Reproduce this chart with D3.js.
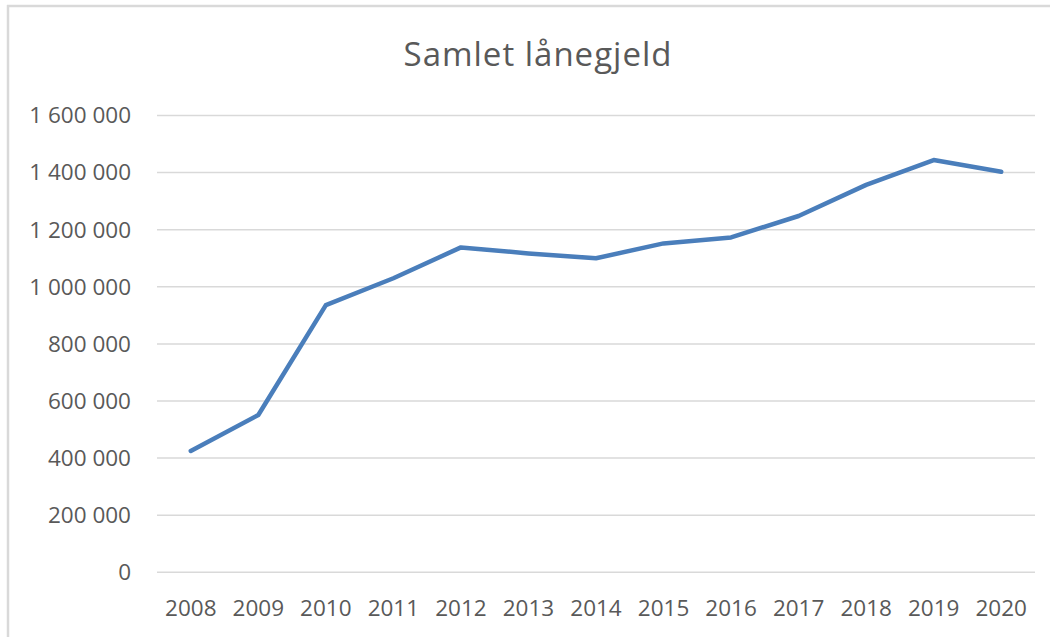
<!DOCTYPE html>
<html>
<head>
    <meta charset="utf-8">
    <script src="https://d3js.org/d3.v7.min.js"></script>
    <style type="text/css">
        body {
            margin: 0;
            background-color: white;
        }

        text {
            font-family: "Open Sans", "Noto Sans", sans-serif;
            fill: #595959;
        }

        .grid line {
            stroke: #d9d9d9;
            stroke-width: 1.5;
        }

        .serie {
            fill: none;
            stroke: #4a7ebb;
            stroke-width: 4.5;
            stroke-linejoin: round;
            stroke-linecap: round;
        }
    </style>
</head>

<body>
    <svg id="main"></svg>
    <script>
        // data
        const years = ["2008", "2009", "2010", "2011", "2012", "2013", "2014",
            "2015", "2016", "2017", "2018", "2019", "2020"]
        const gjeld = [425000, 551000, 936000, 1030000, 1138000, 1117000, 1100000,
            1152000, 1173000, 1248000, 1357000, 1444000, 1403000]
        const yTicks = [0, 200000, 400000, 600000, 800000, 1000000, 1200000, 1400000, 1600000]
        const title = "Samlet lånegjeld"

        let width = 1050,
            height = 637

        let svg1 = d3.select("#main")
            .attr("width", width)
            .attr("height", height)

        // frame of the chart (top and left edges show)
        svg1.append("line")
            .attr("x1", 7).attr("x2", width)
            .attr("y1", 6).attr("y2", 6)
            .attr("stroke", "#d9d9d9").attr("stroke-width", 2.5)
        svg1.append("line")
            .attr("x1", 8).attr("x2", 8)
            .attr("y1", 5).attr("y2", height)
            .attr("stroke", "#d9d9d9").attr("stroke-width", 2.5)

        let x = d3.scalePoint()
            .domain(years)
            .range([157, 1035])
            .padding(0.5)

        let y = d3.scaleLinear()
            .domain([0, 1600000])
            .range([572.3, 115.5])

        let fmt = d => d3.format(",")(d).replace(/,/g, " ")

        // gridlines
        svg1.append("g")
            .attr("class", "grid")
            .selectAll("line")
            .data(yTicks)
            .enter()
            .append("line")
            .attr("x1", 157)
            .attr("x2", 1035)
            .attr("y1", d => y(d))
            .attr("y2", d => y(d))

        // y axis labels
        svg1.append("g")
            .selectAll("text")
            .data(yTicks)
            .enter()
            .append("text")
            .attr("x", 131)
            .attr("y", d => y(d))
            .attr("dy", "0.35em")
            .attr("text-anchor", "end")
            .style("font-size", "22.5px")
            .text(fmt)

        // x axis labels
        svg1.append("g")
            .selectAll("text")
            .data(years)
            .enter()
            .append("text")
            .attr("x", d => x(d))
            .attr("y", 616)
            .attr("text-anchor", "middle")
            .style("font-size", "22.5px")
            .text(d => d)

        // the line itself
        let line = d3.line()
            .x((d, i) => x(years[i]))
            .y(d => y(d))

        svg1.append("path")
            .datum(gjeld)
            .attr("class", "serie")
            .attr("d", line)

        svg1.append("text")
            .attr("x", 538)
            .attr("y", 66)
            .attr("text-anchor", "middle")
            .style("font-size", "33px")
            .style("letter-spacing", "1px")
            .text(title)
    </script>
</body>
</html>
